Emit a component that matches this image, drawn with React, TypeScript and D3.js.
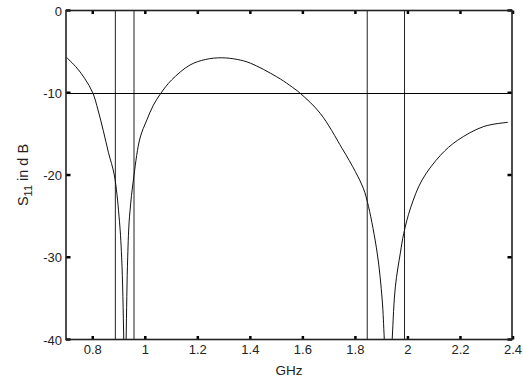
import React, { useEffect, useRef } from 'react';
import * as d3 from 'd3';

// frequency (GHz) and S11 (dB)
const freq = [0.70, 0.74, 0.77, 0.80, 0.82, 0.84, 0.86, 0.882, 0.90, 0.910, 0.918, 0.922, 0.927, 0.933, 0.940, 0.957, 0.98, 1.006, 1.031, 1.059, 1.10, 1.17, 1.23, 1.29, 1.35, 1.40, 1.50, 1.55, 1.59, 1.666, 1.75, 1.80, 1.83, 1.85, 1.883, 1.902, 1.91, 1.925, 1.94, 1.952, 1.971, 1.984, 2.01, 2.054, 2.124, 2.188, 2.289, 2.38];
const s11 = [-5.7, -7.0, -8.3, -10, -12.1, -14.6, -17.3, -20, -25, -30, -40, -50, -40, -30, -25, -20, -15.5, -13.3, -11.5, -10.07, -8.45, -6.63, -5.95, -5.75, -5.95, -6.4, -8.05, -9.1, -10.07, -12.5, -16.8, -19.6, -21.6, -23.85, -29.5, -35.2, -40, -50, -40, -33.6, -29.5, -27.1, -24, -20.6, -17.6, -15.8, -14.1, -13.6];

// band edge markers (GHz) and the -10 dB reference
const bandEdges = [0.886, 0.957, 1.845, 1.987];
const refLevel = [-10];

const xTicks = [0.8, 1, 1.2, 1.4, 1.6, 1.8, 2, 2.2, 2.4];
const yTicks = [-40, -30, -20, -10, 0];

export default function App() {
  const ref = useRef<SVGSVGElement>(null);

  useEffect(() => {
    const width = 523, height = 381;
    const left = 66, right = 512, top = 10.5, bottom = 339.5;
    const svg = d3.select(ref.current);
    svg.selectAll('*').remove();

    const x = d3.scaleLinear().domain([0.7, 2.4]).range([left + 0.5, right + 1]);
    const y = d3.scaleLinear().domain([-40, 0]).range([bottom, top]);

    svg.append('defs').append('clipPath').attr('id', 'plotclip')
      .append('rect')
      .attr('x', left).attr('y', top)
      .attr('width', right - left).attr('height', bottom - top);

    const plot = svg.append('g').attr('clip-path', 'url(#plotclip)');

    plot.selectAll('line.edge')
      .data(bandEdges)
      .enter()
      .append('line')
      .attr('class', 'edge')
      .attr('x1', d => x(d)).attr('x2', d => x(d))
      .attr('y1', top).attr('y2', bottom)
      .attr('stroke', '#222')
      .attr('stroke-width', 1);

    plot.selectAll('line.ref')
      .data(refLevel)
      .enter()
      .append('line')
      .attr('class', 'ref')
      .attr('x1', left).attr('x2', right)
      .attr('y1', d => Math.round(y(d)) + 0.5).attr('y2', d => Math.round(y(d)) + 0.5)
      .attr('stroke', '#000')
      .attr('stroke-width', 1);

    const line = d3.line<number>()
      .x((d, i) => x(freq[i]))
      .y(d => y(d))
      .curve(d3.curveCatmullRom.alpha(0.5));

    plot.append('path')
      .datum(s11)
      .attr('d', line)
      .attr('fill', 'none')
      .attr('stroke', '#111')
      .attr('stroke-width', 1);

    // ticks inside the box, on all four sides
    const tk = svg.append('g').attr('stroke', '#000').attr('stroke-width', 2.5);
    xTicks.forEach(t => {
      tk.append('line').attr('x1', x(t)).attr('x2', x(t)).attr('y1', bottom).attr('y2', bottom - 3.5);
      tk.append('line').attr('x1', x(t)).attr('x2', x(t)).attr('y1', top).attr('y2', top + 3.5);
    });
    yTicks.forEach(t => {
      tk.append('line').attr('x1', left).attr('x2', left + 4.5).attr('y1', y(t)).attr('y2', y(t));
      tk.append('line').attr('x1', right).attr('x2', right - 4.5).attr('y1', y(t)).attr('y2', y(t));
    });

    svg.append('rect')
      .attr('x', left).attr('y', top)
      .attr('width', right - left).attr('height', bottom - top)
      .attr('fill', 'none')
      .attr('stroke', '#222')
      .attr('stroke-width', 1.6);

    const font = 'Liberation Sans, Arial, sans-serif';

    svg.selectAll('text.xt')
      .data(xTicks)
      .enter()
      .append('text')
      .attr('class', 'xt')
      .attr('x', d => x(d))
      .attr('y', bottom + 14)
      .attr('text-anchor', 'middle')
      .attr('font-family', font)
      .attr('font-size', 13)
      .attr('fill', '#222')
      .text(d => String(d));

    svg.selectAll('text.yt')
      .data(yTicks)
      .enter()
      .append('text')
      .attr('class', 'yt')
      .attr('x', left - 4)
      .attr('y', d => y(d) + 5)
      .attr('text-anchor', 'end')
      .attr('font-family', font)
      .attr('font-size', 13)
      .attr('fill', '#222')
      .text(d => String(d));

    svg.append('text')
      .attr('x', (left + right) / 2)
      .attr('y', 375)
      .attr('text-anchor', 'middle')
      .attr('font-family', font)
      .attr('font-size', 13.5)
      .attr('fill', '#222')
      .text('GHz');

    const yl = svg.append('text')
      .attr('transform', 'translate(28,' + ((top + bottom) / 2) + ') rotate(-90)')
      .attr('text-anchor', 'middle')
      .attr('font-family', font)
      .attr('font-size', 14.5)
      .attr('fill', '#222');
    yl.append('tspan').text('S');
    yl.append('tspan').attr('font-size', 11).attr('dy', 4).text('11');
    yl.append('tspan').attr('dy', -4).text(' in d B');

    svg.attr('width', width).attr('height', height);
  }, []);

  return (
    <svg ref={ref} width={523} height={381} style={{ position: 'absolute', left: 0, top: 0, background: '#fff' }} />
  );
}
